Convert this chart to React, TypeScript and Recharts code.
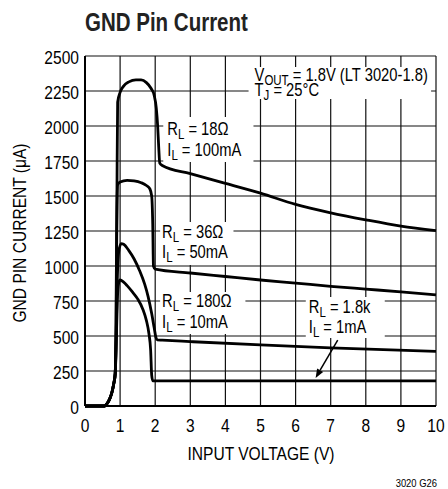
import React from 'react'
import { LineChart, Line, XAxis, YAxis, CartesianGrid, ReferenceArea, ReferenceLine } from 'recharts'

// GND pin current vs input voltage, LT3020-1.8
const xTicks = [0, 1, 2, 3, 4, 5, 6, 7, 8, 9, 10]
const yTicks = [0, 250, 500, 750, 1000, 1250, 1500, 1750, 2000, 2250, 2500]

// shared turn-on ramp, [volts, µA]
const rise: [number, number][] = [
  [0, 0], [0.3, 0], [0.55, 0], [0.65, 25], [0.72, 60], [0.77, 100], [0.82, 160], [0.86, 230],
]

const rl18: [number, number][] = [
  ...rise, [0.89, 600], [0.91, 1500], [0.93, 2170], [1.0, 2240], [1.1, 2285], [1.25, 2315],
  [1.45, 2330], [1.6, 2330], [1.75, 2310], [1.88, 2270], [1.97, 2220], [2.03, 2130],
  [2.07, 2000], [2.1, 1850], [2.13, 1735], [2.2, 1718], [3, 1660], [4, 1590], [5, 1520],
  [6, 1440], [7, 1380], [8, 1330], [9, 1285], [10, 1252],
]

const rl36: [number, number][] = [
  ...rise, [0.88, 500], [0.9, 1200], [0.93, 1580], [1.0, 1600], [1.2, 1612], [1.4, 1608],
  [1.6, 1595], [1.75, 1575], [1.85, 1550], [1.9, 1500], [1.93, 1300], [1.95, 1000],
  [2.0, 978], [3, 950], [4, 925], [5, 900], [6, 878], [7, 855], [8, 835], [9, 815], [10, 793],
]

const rl180: [number, number][] = [
  ...rise, [0.88, 400], [0.92, 900], [0.96, 1100], [1.03, 1160], [1.1, 1155], [1.25, 1110],
  [1.4, 1050], [1.55, 970], [1.7, 870], [1.8, 780], [1.9, 660], [1.97, 560], [2.02, 490],
  [2.06, 472], [2.2, 470], [3, 460], [5, 436], [7, 415], [10, 390],
]

const rl1k8: [number, number][] = [
  ...rise, [0.88, 350], [0.92, 750], [0.96, 880], [1.0, 900], [1.1, 885], [1.2, 860],
  [1.35, 815], [1.5, 765], [1.65, 690], [1.75, 610], [1.82, 520], [1.87, 400], [1.9, 220],
  [1.93, 180], [2.1, 180], [5, 180], [10, 180],
]

// no condensed font installed, so squeeze Liberation Sans horizontally
const font = "'Liberation Sans', Arial, sans-serif"
const SQ = 0.82

const toPts = (arr: [number, number][]) => arr.map(([v, i]) => ({ v, i }))

function NText({ x, y, rotate = 0, children, ...rest }: any) {
  return (
    <text
      transform={`translate(${x} ${y}) rotate(${rotate}) scale(${SQ} 1)`}
      x={0}
      y={0}
      fontFamily={font}
      fill="#000"
      {...rest}
    >
      {children}
    </text>
  )
}

function Sub({ base, sub, rest }: { base: string; sub: string; rest: string }) {
  return (
    <>
      <tspan>{base}</tspan>
      <tspan fontSize={14} dy={4}>{sub}</tspan>
      <tspan dy={-4}>{rest}</tspan>
    </>
  )
}

function boxLabel(lines: { base: string; sub: string; rest: string }[], dx: number, dys: number[]) {
  return (props: any) => {
    const vb = props.viewBox || {}
    return (
      <g>
        {lines.map((l, k) => (
          <NText key={k} x={vb.x + dx} y={vb.y + dys[k]} fontSize={18}>
            <Sub {...l} />
          </NText>
        ))}
      </g>
    )
  }
}

function Arrow(props: any) {
  const { x1, y1, x2, y2 } = props
  const ang = Math.atan2(y2 - y1, x2 - x1)
  const len = 9
  const w = 3.5
  const bx = x2 - len * Math.cos(ang)
  const by = y2 - len * Math.sin(ang)
  const px = -Math.sin(ang) * w
  const py = Math.cos(ang) * w
  return (
    <g>
      <line x1={x1} y1={y1} x2={bx} y2={by} stroke="#000" strokeWidth={1.5} />
      <polygon points={`${x2},${y2} ${bx + px},${by + py} ${bx - px},${by - py}`} fill="#000" />
    </g>
  )
}

const XTick = (p: any) => (
  <NText x={p.x} y={p.y} dy="0.71em" textAnchor="middle" fontSize={19}>
    {p.payload.value}
  </NText>
)

const YTick = (p: any) => (
  <NText x={p.x} y={p.y} dy="0.4em" textAnchor="end" fontSize={19}>
    {p.payload.value}
  </NText>
)

export default function App() {
  const lineProps = {
    dataKey: 'i',
    type: 'monotone' as const,
    stroke: '#000',
    strokeWidth: 2.8,
    dot: false,
    isAnimationActive: false,
    strokeLinejoin: 'round' as const,
  }
  return (
    <div style={{ position: 'absolute', left: 0, top: 0, width: 448, height: 489, background: '#fff' }}>
      <svg width={448} height={489} style={{ position: 'absolute', left: 0, top: 0 }}>
        <NText x={85} y={31} fontSize={25} fontWeight="bold" fill="#222">GND Pin Current</NText>
        <NText x={437} y={487} fontSize={11.5} textAnchor="end">3020 G26</NText>
      </svg>
      <div style={{ position: 'absolute', left: 0, top: 0 }}>
        <LineChart width={448} height={489} margin={{ top: 56, right: 12, bottom: 53, left: 0 }}>
          <CartesianGrid stroke="#111" strokeWidth={1.2} />
          <XAxis
            dataKey="v"
            type="number"
            domain={[0, 10]}
            ticks={xTicks}
            interval={0}
            height={30}
            tickSize={0}
            tickMargin={13}
            tickLine={false}
            axisLine={{ stroke: '#000', strokeWidth: 2 }}
            tick={XTick}
            label={{
              content: () => (
                <NText x={261} y={460} textAnchor="middle" fontSize={19}>
                  INPUT VOLTAGE (V)
                </NText>
              ),
            }}
          />
          <YAxis
            type="number"
            domain={[0, 2500]}
            ticks={yTicks}
            interval={0}
            width={85}
            tickSize={0}
            tickMargin={6}
            tickLine={false}
            axisLine={{ stroke: '#000', strokeWidth: 2 }}
            tick={YTick}
            label={{
              content: () => (
                <NText x={26} y={233} rotate={-90} textAnchor="middle" fontSize={19}>
                  GND PIN CURRENT (μA)
                </NText>
              ),
            }}
          />
          <ReferenceArea
            x1={4.66}
            x2={9.86}
            y1={2193}
            y2={2421}
            fill="#fff"
            fillOpacity={1}
            stroke="none"
            label={boxLabel(
              [
                { base: 'V', sub: 'OUT', rest: ' = 1.8V (LT 3020-1.8)' },
                { base: 'T', sub: 'J', rest: ' = 25°C' },
              ],
              6,
              [14, 29],
            )}
          />
          <ReferenceArea
            x1={2.23}
            x2={4.8}
            y1={1743}
            y2={2064}
            fill="#fff"
            fillOpacity={1}
            stroke="none"
            label={boxLabel(
              [
                { base: 'R', sub: 'L', rest: ' = 18Ω' },
                { base: 'I', sub: 'L', rest: ' = 100mA' },
              ],
              4,
              [18, 39],
            )}
          />
          <ReferenceArea
            x1={2.14}
            x2={4.23}
            y1={1007}
            y2={1314}
            fill="#fff"
            fillOpacity={1}
            stroke="none"
            label={boxLabel(
              [
                { base: 'R', sub: 'L', rest: ' = 36Ω' },
                { base: 'I', sub: 'L', rest: ' = 50mA' },
              ],
              2,
              [16, 36],
            )}
          />
          <ReferenceArea
            x1={2.14}
            x2={4.57}
            y1={514}
            y2={814}
            fill="#fff"
            fillOpacity={1}
            stroke="none"
            label={boxLabel(
              [
                { base: 'R', sub: 'L', rest: ' = 180Ω' },
                { base: 'I', sub: 'L', rest: ' = 10mA' },
              ],
              2,
              [15, 36],
            )}
          />
          <ReferenceArea
            x1={6.29}
            x2={8.54}
            y1={486}
            y2={779}
            fill="#fff"
            fillOpacity={1}
            stroke="none"
            label={boxLabel(
              [
                { base: 'R', sub: 'L', rest: ' = 1.8k' },
                { base: 'I', sub: 'L', rest: ' = 1mA' },
              ],
              3,
              [16, 36],
            )}
          />
          <ReferenceLine
            segment={[
              { x: 7.2, y: 471 },
              { x: 6.57, y: 200 },
            ]}
            shape={(p: any) => <Arrow {...p} />}
          />
          <Line data={toPts(rl18)} {...lineProps} />
          <Line data={toPts(rl36)} {...lineProps} />
          <Line data={toPts(rl180)} {...lineProps} />
          <Line data={toPts(rl1k8)} {...lineProps} />
        </LineChart>
      </div>
    </div>
  )
}
